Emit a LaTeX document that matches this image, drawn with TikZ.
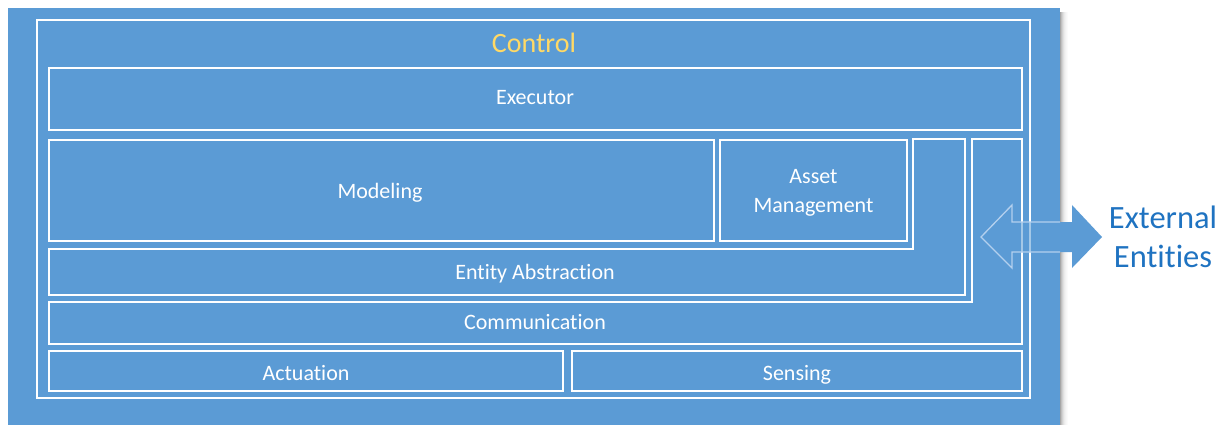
\documentclass[tikz,border=0pt]{standalone}
\usepackage{fontspec}
\setmainfont[Ligatures={NoCommon}]{Carlito}
\definecolor{bgblue}{HTML}{5B9BD5}
\definecolor{ctrlgold}{HTML}{FFD966}
\definecolor{extblue}{HTML}{1F73C1}
\definecolor{arrline}{HTML}{B4D0EE}
\begin{document}
\begin{tikzpicture}[x=1pt,y=-1pt,
  frame/.style={draw=white,line width=2pt},
  lbl/.style={text=white,font=\fontsize{22}{28}\selectfont,inner sep=0pt,align=center,anchor=base},
  arrout/.style={draw=arrline,line width=1.3pt,line join=miter}]
\useasboundingbox (0,0) rectangle (1227,425);
% shadow
\foreach \i/\o in {0/0.35,1/0.25,2/0.18,3/0.12,4/0.08,5/0.05,6/0.03,7/0.015}{
  \fill[black,opacity=\o] (1060+\i,12) rectangle (1061+\i,425);
}
% background
\fill[bgblue] (8,8) rectangle (1060,425);
% control frame
\draw[frame] (37,20) rectangle (1030,398);
\node[text=ctrlgold,font=\fontsize{28}{32}\selectfont,inner sep=0pt,anchor=base] (ctrl) at (534,53) {Control};
% executor
\draw[frame] (49,68) rectangle (1022,130);
\node[lbl] (exec) at (535,105) {Executor};
% modeling
\draw[frame] (49,140) rectangle (714,241);
\node[lbl] (model) at (380,198) {Modeling};
% asset management
\draw[frame] (720,140) rectangle (907,241);
\node[lbl] (asset1) at (813.5,184) {Asset};
\node[lbl] (asset2) at (813.5,212) {Management};
% entity abstraction (L shape)
\draw[frame] (49,249) -- (913,249) -- (913,139) -- (965,139) -- (965,295) -- (49,295) -- cycle;
\node[lbl] (ent) at (535,279) {Entity Abstraction};
% communication (L shape)
\draw[frame] (49,302) -- (972,302) -- (972,139) -- (1022,139) -- (1022,344) -- (49,344) -- cycle;
\node[lbl] (comm) at (535,329) {Communication};
% actuation / sensing
\draw[frame] (49,351) rectangle (563,391);
\node[lbl] (act) at (306,380) {Actuation};
\draw[frame] (572,351) rectangle (1022,391);
\node[lbl] (sens) at (797,380) {Sensing};
% double arrow
\path[fill=bgblue]
  (981,237) -- (1012,205) -- (1012,222) -- (1072,222) -- (1072,205) -- (1102,237)
  -- (1072,268) -- (1072,252) -- (1012,252) -- (1012,268) -- cycle;
\begin{scope}
\clip (981,237) -- (1012,205) -- (1012,222) -- (1072,222) -- (1072,205) -- (1102,237)
  -- (1072,268) -- (1072,252) -- (1012,252) -- (1012,268) -- cycle;
\foreach \xx in {965,972,1022,1030}{
  \draw[white,opacity=0.45,line width=2pt] (\xx,200) -- (\xx,275);
}
\end{scope}
\draw[arrout] (1060,222) -- (1012,222) -- (1012,205) -- (981,237) -- (1012,268) -- (1012,252) -- (1060,252);
% external entities
\node[text=extblue,font=\fontsize{32.5}{40}\selectfont,inner sep=0pt,anchor=base] (ext1) at (1163,228) {External};
\node[text=extblue,font=\fontsize{32.5}{40}\selectfont,inner sep=0pt,anchor=base] (ext2) at (1163,267) {Entities};
\end{tikzpicture}
\end{document}
